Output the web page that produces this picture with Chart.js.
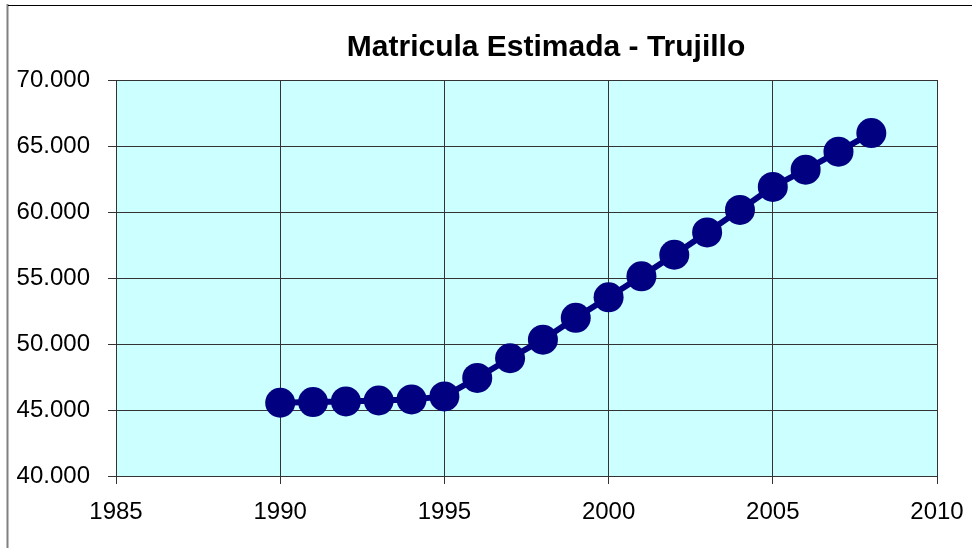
<!DOCTYPE html>
<html>
<head>
<meta charset="utf-8">
<script src="https://cdn.jsdelivr.net/npm/chart.js@4.4.0/dist/chart.umd.min.js"></script>
<style>
    body { margin: 0; background: #ffffff; }
    #wrap { width: 972px; height: 548px; position: relative; }
</style>
</head>
<body>
<div id="wrap"><canvas id="matriculaGraph" width="972" height="548"></canvas></div>
<script>
const years = [1990, 1991, 1992, 1993, 1994, 1995, 1996, 1997, 1998, 1999,
               2000, 2001, 2002, 2003, 2004, 2005, 2006, 2007, 2008];
const matricula = [45550, 45600, 45650, 45720, 45800, 46030, 47430, 48920, 50330, 51980,
                   53540, 55130, 56760, 58450, 60160, 61900, 63210, 64570, 65980];
const titleText = 'Matricula Estimada - Trujillo';

const fontFamily = '"Liberation Sans", Arial, sans-serif';

// plot background + outer frame + title
const framePlugin = {
    id: 'framePlugin',
    beforeDraw(chart) {
        const ctx = chart.ctx;
        const a = chart.chartArea;
        ctx.save();
        ctx.fillStyle = '#ffffff';
        ctx.fillRect(0, 0, chart.width, chart.height);
        ctx.fillStyle = '#ccffff';
        ctx.fillRect(a.left, a.top, a.right - a.left, a.bottom - a.top);
        ctx.strokeStyle = '#808080';
        ctx.lineWidth = 2;
        ctx.beginPath();
        ctx.moveTo(7.5, 4);
        ctx.lineTo(7.5, chart.height);
        ctx.stroke();
        ctx.strokeStyle = '#000000';
        ctx.lineWidth = 1;
        ctx.beginPath();
        ctx.moveTo(8, 5.5);
        ctx.lineTo(chart.width, 5.5);
        ctx.stroke();
        ctx.restore();
    },
    afterDraw(chart) {
        const ctx = chart.ctx;
        ctx.save();
        ctx.fillStyle = '#000000';
        ctx.font = 'bold 30px ' + fontFamily;
        ctx.textAlign = 'center';
        ctx.textBaseline = 'alphabetic';
        ctx.fillText(titleText, 546, 56);
        ctx.restore();
    }
};

let ctx = document.getElementById('matriculaGraph').getContext('2d');
let matriculaGraph = new Chart(ctx, {
    type: 'line',
    data: {
        datasets: [{
            label: 'Matricula',
            data: years.map((y, i) => ({ x: y, y: matricula[i] })),
            borderColor: '#000080',
            backgroundColor: '#000080',
            borderWidth: 6,
            pointRadius: 15,
            pointBorderWidth: 0,
            pointBackgroundColor: '#000080',
            tension: 0
        }]
    },
    options: {
        responsive: false,
        animation: false,
        layout: { padding: { left: 0, right: 35, top: 80, bottom: 0 } },
        plugins: {
            legend: { display: false },
            title: { display: false },
            tooltip: { enabled: false }
        },
        scales: {
            x: {
                type: 'linear',
                min: 1985,
                max: 2010,
                ticks: {
                    stepSize: 5,
                    color: '#000000',
                    padding: 14,
                    font: { family: fontFamily, size: 24 },
                    callback: (v) => String(v)
                },
                grid: { color: '#333333', lineWidth: 1, tickLength: 8 },
                border: { color: '#333333', width: 1 },
                afterFit(scale) {
                    scale.height = 72;
                    scale.paddingLeft = 0;
                    scale.paddingRight = 0;
                }
            },
            y: {
                min: 40000,
                max: 70000,
                ticks: {
                    stepSize: 5000,
                    color: '#000000',
                    padding: 18,
                    font: { family: fontFamily, size: 24 },
                    callback: (v) => v.toLocaleString('de-DE', { minimumFractionDigits: 0 }).replace(',', '.')
                },
                grid: { color: '#333333', lineWidth: 1, tickLength: 8 },
                border: { color: '#333333', width: 1 },
                afterFit(scale) {
                    scale.width = 116;
                    scale.paddingTop = 0;
                    scale.paddingBottom = 0;
                }
            }
        }
    },
    plugins: [framePlugin]
});
</script>
</body>
</html>
